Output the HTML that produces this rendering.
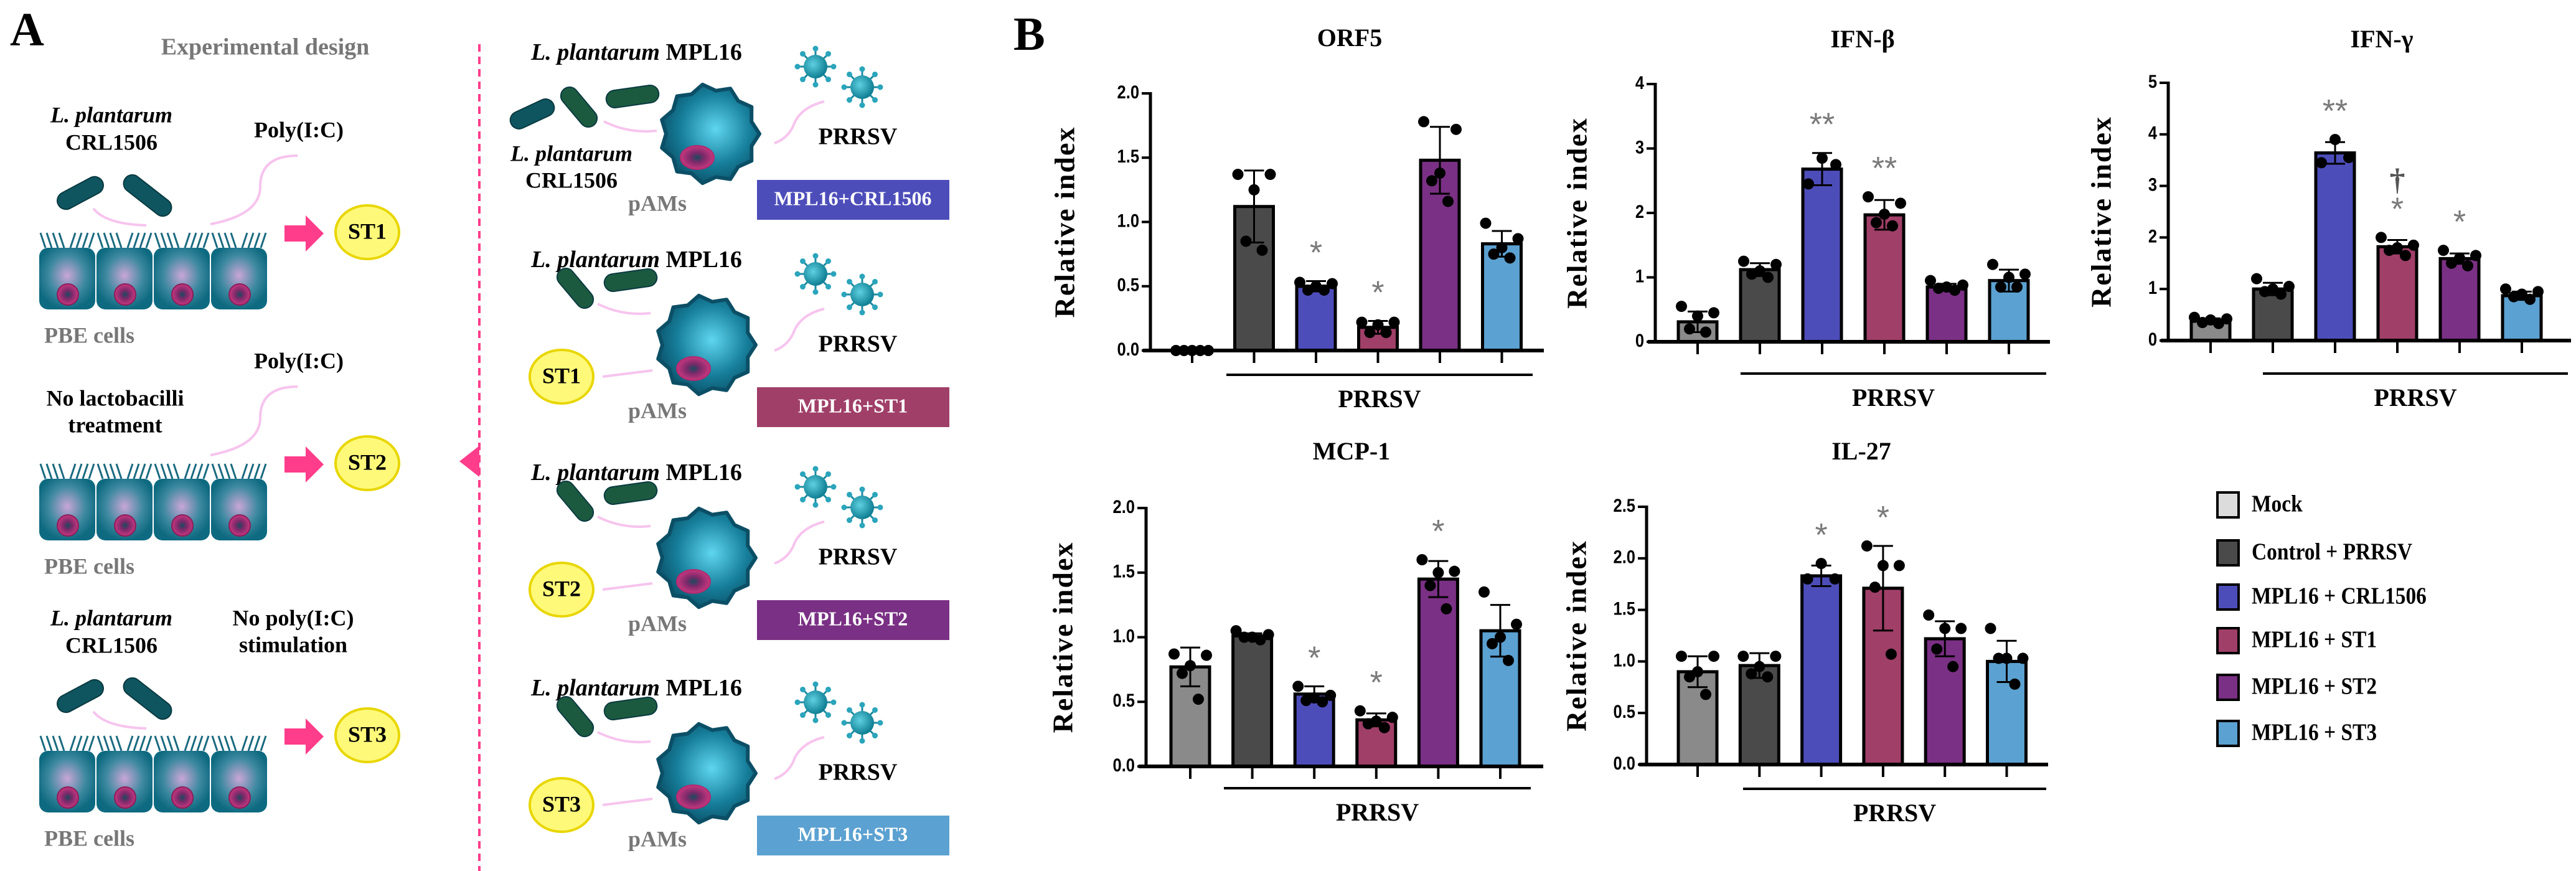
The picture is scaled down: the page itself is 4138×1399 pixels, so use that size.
<!DOCTYPE html>
<html><head><meta charset="utf-8">
<style>
html,body{margin:0;padding:0;background:#fff;}
svg{display:block;}
.serif{font-family:"Liberation Serif",serif;font-weight:bold;}
.sans{font-family:"Liberation Sans",sans-serif;font-weight:bold;}
</style></head>
<body>
<svg id="fig" xmlns="http://www.w3.org/2000/svg" width="4138" height="1399" viewBox="0 0 4138 1399">
<defs>
<radialGradient id="cellG" cx="50%" cy="45%" r="55%"><stop offset="0" stop-color="#c9a6d6"/><stop offset="0.6" stop-color="#3d89a0"/><stop offset="1" stop-color="#0e6a80"/></radialGradient>
<radialGradient id="macG" cx="55%" cy="45%" r="60%"><stop offset="0" stop-color="#5fd6f0"/><stop offset="0.6" stop-color="#167e9a"/><stop offset="1" stop-color="#0b4f66"/></radialGradient>
<radialGradient id="nucG" cx="50%" cy="50%" r="50%"><stop offset="0" stop-color="#1a4a5e"/><stop offset="0.4" stop-color="#7a2a6a"/><stop offset="1" stop-color="#c8377f"/></radialGradient>
<radialGradient id="virG" cx="40%" cy="40%" r="60%"><stop offset="0" stop-color="#5fd0e0"/><stop offset="1" stop-color="#0f7f94"/></radialGradient>
</defs>
<g id="panelA"></g>
<g id="panelB"></g>
</svg>
<script>
// ===== Chart data =====
const groups = ["Mock","Control + PRRSV","MPL16 + CRL1506","MPL16 + ST1","MPL16 + ST2","MPL16 + ST3"];
const orf5Means = [0, 1.12, 0.50, 0.18, 1.48, 0.83];
const orf5Errs  = [0, 0.28, 0.04, 0.05, 0.26, 0.10];
const orf5Pts   = [[0,0,0,0,0],[1.37,1.37,1.25,0.85,0.78],[0.53,0.52,0.50,0.47,0.47],[0.22,0.22,0.20,0.14,0.14],[1.78,1.72,1.38,1.32,1.16],[0.99,0.87,0.80,0.75,0.72]];
const orf5Marks = ["","","*","*","",""];
const orf5Ticks = [0,0.5,1.0,1.5,2.0];

const ifnbMeans = [0.31, 1.12, 2.68, 1.97, 0.85, 0.95];
const ifnbErrs  = [0.16, 0.10, 0.25, 0.23, 0.05, 0.17];
const ifnbPts   = [[0.55,0.45,0.40,0.20,0.15],[1.25,1.20,1.10,1.05,1.00],[2.85,2.75,2.45],[2.25,2.15,1.98,1.85,1.80],[0.95,0.88,0.85,0.83,0.80],[1.20,1.05,1.00,0.85,0.85]];
const ifnbMarks = ["","","**","**","",""];
const ifnbTicks = [0,1,2,3,4];

const ifngMeans = [0.38, 1.00, 3.64, 1.82, 1.59, 0.87];
const ifngErrs  = [0.05, 0.12, 0.21, 0.13, 0.10, 0.08];
const ifngPts   = [[0.45,0.42,0.40,0.35,0.33],[1.20,1.05,1.00,0.95,0.90],[3.90,3.55,3.45],[2.00,1.85,1.80,1.75,1.65],[1.75,1.65,1.60,1.50,1.45],[1.00,0.95,0.90,0.85,0.80]];
const ifngMarks = ["","","**","*","*",""];
const ifngTicks = [0,1,2,3,4,5];

const mcpMeans = [0.77, 1.01, 0.56, 0.36, 1.45, 1.05];
const mcpErrs  = [0.15, 0.02, 0.06, 0.05, 0.14, 0.20];
const mcpPts   = [[0.87,0.86,0.78,0.72,0.52],[1.05,1.02,1.00,1.00,0.98],[0.62,0.55,0.53,0.51,0.50],[0.43,0.38,0.35,0.33,0.30],[1.60,1.51,1.50,1.40,1.22],[1.35,1.10,1.00,0.95,0.82]];
const mcpMarks = ["","","*","*","*",""];
const mcpTicks = [0,0.5,1.0,1.5,2.0];

const il27Means = [0.90, 0.96, 1.83, 1.71, 1.22, 1.00];
const il27Errs  = [0.15, 0.12, 0.10, 0.41, 0.17, 0.20];
const il27Pts   = [[1.05,1.05,0.90,0.85,0.68],[1.05,1.05,0.95,0.88,0.85],[1.95,1.80,1.80],[2.12,1.93,1.93,1.72,1.07],[1.45,1.32,1.32,1.12,0.95],[1.32,1.03,1.03,1.03,0.78]];
const il27Marks = ["","","*","*","",""];
const il27Ticks = [0,0.5,1.0,1.5,2.0,2.5];

const barColors = ["#8a8a8a","#4a4a4a","#4d4dba","#a03f68","#7a3084","#5ba1d1"];
const legendColors = ["#dcdcdc","#4a4a4a","#4d4dba","#a03f68","#7a3084","#5ba1d1"];

const NS = "http://www.w3.org/2000/svg";
function mk(tag, attrs, parent, text){
  const e = document.createElementNS(NS, tag);
  for (const k in attrs) e.setAttribute(k, attrs[k]);
  if (text !== undefined) e.textContent = text;
  parent.appendChild(e);
  return e;
}
const B = document.getElementById('panelB');
const A = document.getElementById('panelA');

function chart(cfg){
  const g = mk('g', {}, B);
  
  
  const maxV = cfg.ticks[cfg.ticks.length-1];
  const yS = v => cfg.y0 - (v/maxV)*(cfg.y0-cfg.yTop);
  const xS = i => cfg.bx + i*cfg.step;
  const t = mk('text', {x:cfg.tx, y:cfg.ty, 'text-anchor':'middle', 'font-size':40, class:'serif', 'dominant-baseline':'middle'}, g, cfg.title);
  
  
  const yl = mk('text', {x:0, y:0, transform:`translate(${cfg.lx},${(cfg.y0+cfg.yTop)/2}) rotate(-90)`, 'text-anchor':'middle', 'dominant-baseline':'middle', 'font-size':46, class:'serif', 'letter-spacing':'2'}, g, 'Relative index');
  
  
  cfg.means.forEach((m,i)=>{
    const cx = xS(i), w = 62;
    const r = mk('rect', {x:cx-w/2, y:yS(m), width:w, height:Math.max(0,cfg.y0-yS(m)), fill:barColors[i], stroke:'#000', 'stroke-width':5}, g);
    
    
    const e = cfg.errs[i];
    if (e > 0){
      const eb = mk('g', {stroke:'#000', 'stroke-width':3}, g);
      
      
      mk('line', {x1:cx, x2:cx, y1:yS(m-e), y2:yS(m+e)}, eb);
      mk('line', {x1:cx-16, x2:cx+16, y1:yS(m+e), y2:yS(m+e)}, eb);
      mk('line', {x1:cx-16, x2:cx+16, y1:yS(m-e), y2:yS(m-e)}, eb);
    }
    const pts = cfg.pts[i];
    const offs = pts.length===3 ? [0,22,-22] : [-26,26,0,-13,13];
    pts.forEach((p,j)=>{
      const c = mk('circle', {cx:cx+offs[j], cy:yS(p), r:9, fill:'#000'}, g);
      
      
    });
    const mark = cfg.marks[i];
    if (mark){
      const top = Math.max(...pts, m+e);
      const s = mk('text', {x:cx, y:yS(top)-28, 'text-anchor':'middle', 'font-size':52, fill:'#7a7a7a', 'font-family':'"Liberation Sans",sans-serif'}, g, mark);
      
      
    }
    mk('line', {x1:cx, x2:cx, y1:cfg.y0, y2:cfg.y0+20, stroke:'#000', 'stroke-width':4}, g);
  });
  if (cfg.dagger !== undefined){
    const cx = xS(cfg.dagger);
    const d = mk('text', {x:cx, y:cfg.daggerY, 'text-anchor':'middle', 'font-size':50, fill:'#555', class:'serif'}, g, '†');
    
    
  }
  const ax = mk('g', {}, g);
  
  
  mk('line', {x1:cfg.ax, x2:cfg.ax, y1:cfg.yTop-2, y2:cfg.y0+3, stroke:'#000', 'stroke-width':5}, ax);
  mk('line', {x1:cfg.ax-12, x2:cfg.axEnd, y1:cfg.y0, y2:cfg.y0, stroke:'#000', 'stroke-width':6}, ax);
  cfg.ticks.forEach(tv=>{
    mk('line', {x1:cfg.ax-14, x2:cfg.ax, y1:yS(tv), y2:yS(tv), stroke:'#000', 'stroke-width':4}, ax);
    const lab = mk('text', {x:cfg.ax-18, y:yS(tv), 'text-anchor':'end', 'dominant-baseline':'middle', 'font-size':30, class:'sans', transform:`translate(${cfg.ax-18},${yS(tv)}) scale(0.85,1) translate(${-(cfg.ax-18)},${-yS(tv)})`}, ax, cfg.dec ? tv.toFixed(1) : String(tv));
    
    
  });
  mk('line', {x1:cfg.px1, x2:cfg.px2, y1:cfg.py, y2:cfg.py, stroke:'#000', 'stroke-width':4}, g);
  const pl = mk('text', {x:(cfg.px1+cfg.px2)/2, y:cfg.py+43, 'text-anchor':'middle', 'dominant-baseline':'middle', 'font-size':40, class:'serif'}, g, 'PRRSV');
  
  
}

chart({id:'orf5', title:'ORF5', means:orf5Means, errs:orf5Errs, pts:orf5Pts, marks:orf5Marks, ticks:orf5Ticks, dec:true,
  ax:1848, y0:563, yTop:150, bx:1915, step:99.5, axEnd:2480, px1:1970, px2:2462, py:602, tx:2168, ty:65, lx:1715});
chart({id:'ifn-beta', title:'IFN-β', means:ifnbMeans, errs:ifnbErrs, pts:ifnbPts, marks:ifnbMarks, ticks:ifnbTicks, dec:false,
  ax:2659, y0:549, yTop:135, bx:2727, step:100, axEnd:3293, px1:2796, px2:3287, py:600, tx:2992, ty:67, lx:2538});
chart({id:'ifn-gamma', title:'IFN-γ', means:ifngMeans, errs:ifngErrs, pts:ifngPts, marks:ifngMarks, ticks:ifngTicks, dec:false,
  ax:3483, y0:547, yTop:133, bx:3551, step:100, axEnd:4130, px1:3635, px2:4125, py:600, tx:3826, ty:67, lx:3380, dagger:3, daggerY:305});
chart({id:'mcp-1', title:'MCP-1', means:mcpMeans, errs:mcpErrs, pts:mcpPts, marks:mcpMarks, ticks:mcpTicks, dec:true,
  ax:1841, y0:1231, yTop:816, bx:1912, step:99.6, axEnd:2479, px1:1966, px2:2459, py:1266, tx:2171, ty:729, lx:1712});
chart({id:'il-27', title:'IL-27', means:il27Means, errs:il27Errs, pts:il27Pts, marks:il27Marks, ticks:il27Ticks, dec:true,
  ax:2645, y0:1228, yTop:814, bx:2727, step:99.3, axEnd:3290, px1:2800, px2:3287, py:1267, tx:2990, ty:729, lx:2537});

const legendY = [811, 888, 959, 1029, 1104, 1178];
const lg = mk('g', {}, B);


groups.forEach((name,i)=>{
  const e = mk('g', {}, lg);
  
  
  mk('rect', {x:3562, y:legendY[i]-20, width:34, height:40, fill:legendColors[i], stroke:'#000', 'stroke-width':4}, e);
  mk('text', {x:3617, y:legendY[i]+2, 'dominant-baseline':'middle', 'font-size':38, class:'serif', transform:`translate(3617,0) scale(0.88,1) translate(-3617,0)`}, e, name);
});
const bl = mk('text', {x:1628, y:80, 'font-size':76, class:'serif'}, B, 'B');



// ===== Panel A (diagram) =====
function txt(x,y,s,opts,name){
  const o = Object.assign({x:x, y:y, 'font-size':36, class:'serif', 'dominant-baseline':'middle'}, opts||{});
  const t = mk('text', o, A, s);
  
  
  return t;
}
function rod(cx,cy,len,ang,color){
  mk('rect', {x:cx-len/2, y:cy-14, width:len, height:28, rx:14, fill:color, stroke:'#0a3a40', 'stroke-width':2, transform:`rotate(${ang} ${cx} ${cy})`}, A);
}
function pinkCurve(d){ mk('path', {d:d, fill:'none', stroke:'#f7c4ee', 'stroke-width':4}, A); }
function cells(y){
  const g = mk('g', {}, A);
  
  
  for (let i=0;i<4;i++){
    const x = 63 + i*92;
    for (let k=0;k<8;k++){
      const cxk = x+10+k*10;
      mk('path', {d:`M${cxk} ${y} q ${k<4?-4:4} -12 ${k<4?-8:8} -24`, stroke:'#1a6a80', 'stroke-width':3, fill:'none'}, g);
    }
    mk('rect', {x:x, y:y, width:90, height:99, rx:14, fill:'url(#cellG)'}, g);
    mk('circle', {cx:x+46, cy:y+75, r:17, fill:'url(#nucG)', stroke:'#8a1e5a', 'stroke-width':2}, g);
  }
}
function stEllipse(cx,cy,label){
  mk('ellipse', {cx:cx, cy:cy, rx:51, ry:43, fill:'#fff97a', stroke:'#e8d600', 'stroke-width':4}, A);
  txt(cx, cy+2, label, {'text-anchor':'middle', 'font-size':36}, 'st-label');
}
function pinkArrow(x,y){
  const a = mk('path', {d:`M${x} ${y-13} h34 v-16 l29 29 l-29 29 v-16 h-34 z`, fill:'#ff3d8b'}, A);
  
  
}
txt(16, 55, 'A', {'font-size':76, class:'serif', 'dominant-baseline':'middle'}, 'panel-a-label');
txt(426, 79, 'Experimental design', {'text-anchor':'middle', 'font-size':38, fill:'#777'}, 'experimental-design-title');
const dl = mk('line', {x1:770, x2:770, y1:71, y2:1399, stroke:'#ff3d8b', 'stroke-width':4, 'stroke-dasharray':'12 8'}, A);


mk('path', {d:'M770 716 L738 741 L770 766 Z', fill:'#ff3d8b'}, A);

const rowOff = [0, 371, 808];
const stNames = ['ST1','ST2','ST3'];
rowOff.forEach((o,r)=>{
  if (r !== 1){
    txt(179, 188+o, 'L. plantarum', {'text-anchor':'middle', 'font-style':'italic'}, 'l-plantarum-label');
    txt(179, 232+o, 'CRL1506', {'text-anchor':'middle'}, 'crl1506-label');
    rod(129, 310+o, 80, -28, '#0e5560');
    rod(237, 314+o, 90, 38, '#0e5560');
    pinkCurve(`M150 ${335+o} q 20 25 85 27`);
  }
  if (r === 1){
    txt(185, 643-371+o, 'No lactobacilli', {'text-anchor':'middle'}, 'no-lactobacilli-label');
    txt(185, 686-371+o, 'treatment', {'text-anchor':'middle'}, 'treatment-label');
  }
  if (r < 2){
    txt(480, 212+o, 'Poly(I:C)', {'text-anchor':'middle'}, 'poly-ic-label');
    pinkCurve(`M478 ${250+o} q -60 0 -60 50 q 0 45 -80 60`);
  } else {
    txt(471, 988-808+o+8, 'No poly(I:C)', {'text-anchor':'middle'}, 'no-poly-ic-label');
    txt(471, 1031-808+o+8, 'stimulation', {'text-anchor':'middle'}, 'stimulation-label');
  }
  cells(398+o);
  pinkArrow(457, 375+o);
  stEllipse(590, 373+o, stNames[r]);
  txt(71, 542+o, 'PBE cells', {fill:'#777'}, 'pbe-cells-label');
});

const rOff = [0, 333, 675, 1021];
const boxColors = ['#4d4dba','#a03f68','#7a3084','#5ba1d1'];
const boxLabels = ['MPL16+CRL1506','MPL16+ST1','MPL16+ST2','MPL16+ST3'];
function macrophage(cx,cy){
  const g = mk('g', {}, A);
  
  
  let d = '';
  const n = 22;
  for (let k=0;k<n;k++){
    const a = k/n*Math.PI*2;
    const rr = (k%2===0) ? 80 : 70;
    d += (k===0?'M':'L') + (cx+Math.cos(a)*rr).toFixed(1) + ' ' + (cy+Math.sin(a)*rr).toFixed(1) + ' ';
  }
  mk('path', {d:d+'Z', fill:'url(#macG)', stroke:'#0b4f66', 'stroke-width':6, 'stroke-linejoin':'round'}, g);
  mk('ellipse', {cx:cx-20, cy:cy+38, rx:27, ry:19, fill:'url(#nucG)', stroke:'#b02a6e', 'stroke-width':2}, g);
}
function virus(cx,cy){
  const g = mk('g', {}, A);
  
  
  for (let k=0;k<8;k++){
    const a = k/8*Math.PI*2;
    mk('line', {x1:cx, y1:cy, x2:cx+Math.cos(a)*28, y2:cy+Math.sin(a)*28, stroke:'#1b8aa0', 'stroke-width':3}, g);
    mk('circle', {cx:cx+Math.cos(a)*29, cy:cy+Math.sin(a)*29, r:4.5, fill:'#2aa5bb'}, g);
  }
  mk('circle', {cx:cx, cy:cy, r:19, fill:'url(#virG)'}, g);
}
rOff.forEach((o,r)=>{
  const t = mk('text', {x:853, y:87+o, 'font-size':38, class:'serif', 'dominant-baseline':'middle'}, A);
  
  
  mk('tspan', {'font-style':'italic'}, t, 'L. plantarum ');
  mk('tspan', {}, t, 'MPL16');
  if (r === 0){
    rod(855, 183, 75, -25, '#0e5560');
    rod(930, 172, 75, 50, '#1c5a40');
    rod(1016, 155, 85, -8, '#1c5a40');
    txt(918, 250, 'L. plantarum', {'text-anchor':'middle', 'font-style':'italic'}, 'l-plantarum-label');
    txt(918, 293, 'CRL1506', {'text-anchor':'middle'}, 'crl1506-label');
    pinkCurve(`M970 195 q 40 20 85 15`);
  } else {
    rod(924, 170+o-40, 75, 50, '#1c5a40');
    rod(1013, 157+o-40, 85, -8, '#1c5a40');
    pinkCurve(`M960 ${190+o-35} q 40 20 85 15`);
    stEllipse(902, 605-333+o, stNames[r-1]);
    pinkCurve(`M968 ${605-333+o} q 40 -5 80 -10`);
  }
  macrophage(r===0?1140:1134, (r===0?215:554-333)+o);
  virus(1310, 107+o);
  virus(1385, 140+o);
  pinkCurve(`M1324 ${163+o} q -40 10 -50 40 q -10 20 -30 27`);
  txt(1378, 223+o, 'PRRSV', {'text-anchor':'middle', 'font-size':38}, 'prrsv-label');
  txt(1056, 330+o, 'pAMs', {'text-anchor':'middle', fill:'#777'}, 'pams-label');
  const bx = mk('rect', {x:1216, y:289+o, width:309, height:64, fill:boxColors[r]}, A);
  
  
  txt(1370, 322+o, boxLabels[r], {'text-anchor':'middle', fill:'#fff', 'font-size':32}, 'group-box-label');
});
</script>
</body></html>
